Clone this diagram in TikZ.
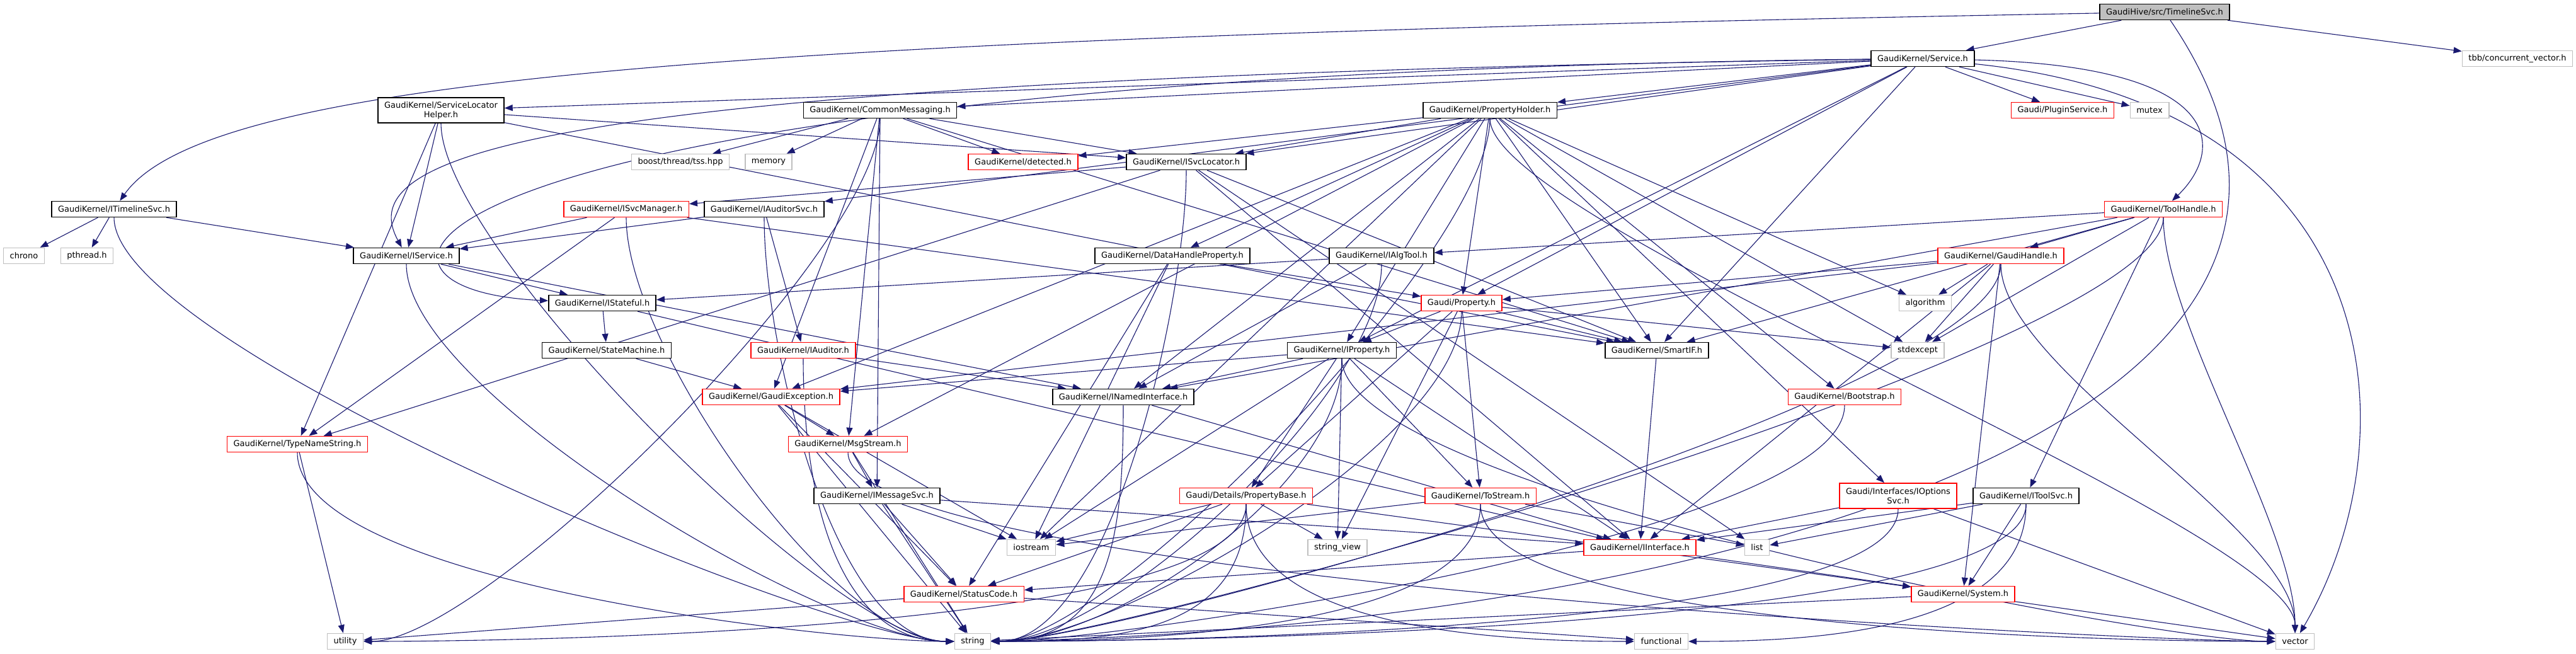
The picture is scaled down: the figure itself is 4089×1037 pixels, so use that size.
\documentclass[tikz,border=0pt]{standalone}
\usepackage{fontspec}
\setmainfont{DejaVu Sans}
\usetikzlibrary{arrows.meta,backgrounds}
\definecolor{edgeblue}{HTML}{191970}
\definecolor{sysgray}{HTML}{BFBFBF}
\begin{document}
\begin{tikzpicture}[x=0.2mm,y=-0.2mm,
  every node/.style={rectangle,minimum height=5mm,inner xsep=2mm,inner ysep=0pt,
    font=\fontsize{7.4}{8.6}\selectfont,line width=0.3mm,fill=white},
  hdr/.style={draw=black},
  bad/.style={draw=red},
  sysh/.style={draw=sysgray},
  tall/.style={minimum height=8mm,align=center},
  dep/.style={draw=edgeblue,line width=0.22mm,-{Triangle[length=2.6mm,width=2mm]}},
  atleft/.style={dep,to path={.. controls +(0,220) and +(-220,0) .. (\tikztotarget)}},
  atright/.style={dep,to path={.. controls +(0,220) and +(220,0) .. (\tikztotarget)}},
  attop/.style={dep,to path={.. controls +(0,180) and +(0,-180) .. (\tikztotarget)}}]
  \useasboundingbox (0,0) rectangle (4089,1037);
  % rows, top to bottom
  \node[hdr,fill=sysgray] (tl) at (3436,19) {GaudiHive/src/TimelineSvc.h};
  \node[hdr] (svc) at (3052,93) {GaudiKernel/Service.h};
  \node[sysh] (tbb) at (3996,93) {tbb/concurrent\_vector.h};

  \node[hdr,tall] (slh) at (700,175) {GaudiKernel/ServiceLocator\\Helper.h};
  \node[hdr] (cm) at (1397,175) {GaudiKernel/CommonMessaging.h};
  \node[hdr] (ph) at (2365,175) {GaudiKernel/PropertyHolder.h};
  \node[bad] (plg) at (3274,175) {Gaudi/PluginService.h};
  \node[sysh] (mtx) at (3412,175) {mutex};

  \node[sysh] (tss) at (1080,257) {boost/thread/tss.hpp};
  \node[sysh] (mem) at (1220,257) {memory};
  \node[bad] (det) at (1624,257) {GaudiKernel/detected.h};
  \node[hdr] (isl) at (1883,257) {GaudiKernel/ISvcLocator.h};

  \node[hdr] (itl) at (181,332) {GaudiKernel/ITimelineSvc.h};
  \node[bad] (isvm) at (994,332) {GaudiKernel/ISvcManager.h};
  \node[hdr] (ias) at (1213,332) {GaudiKernel/IAuditorSvc.h};
  \node[bad] (th) at (3434,332) {GaudiKernel/ToolHandle.h};

  \node[sysh] (chr) at (38,406) {chrono};
  \node[sysh] (pth) at (138,406) {pthread.h};
  \node[hdr] (isv) at (645,406) {GaudiKernel/IService.h};
  \node[hdr] (dhp) at (1861,406) {GaudiKernel/DataHandleProperty.h};
  \node[hdr] (iat) at (2193,406) {GaudiKernel/IAlgTool.h};
  \node[bad] (gh) at (3176,406) {GaudiKernel/GaudiHandle.h};

  \node[hdr] (ist) at (956,481) {GaudiKernel/IStateful.h};
  \node[bad] (prop) at (2320,481) {Gaudi/Property.h};
  \node[sysh] (alg) at (3056,481) {algorithm};

  \node[hdr] (sm) at (963,556) {GaudiKernel/StateMachine.h};
  \node[bad] (iaud) at (1275,556) {GaudiKernel/IAuditor.h};
  \node[hdr] (iprop) at (2130,556) {GaudiKernel/IProperty.h};
  \node[hdr] (sif) at (2630,556) {GaudiKernel/SmartIF.h};
  \node[sysh] (stdex) at (3044,556) {stdexcept};

  \node[bad] (ge) at (1224,630) {GaudiKernel/GaudiException.h};
  \node[hdr] (ini) at (1783,630) {GaudiKernel/INamedInterface.h};
  \node[bad] (boot) at (2928,630) {GaudiKernel/Bootstrap.h};

  \node[bad] (tns) at (472,705) {GaudiKernel/TypeNameString.h};
  \node[bad] (msg) at (1346,705) {GaudiKernel/MsgStream.h};

  \node[hdr] (ims) at (1392,787) {GaudiKernel/IMessageSvc.h};
  \node[bad] (pb) at (1978,787) {Gaudi/Details/PropertyBase.h};
  \node[bad] (ts) at (2350,787) {GaudiKernel/ToStream.h};
  \node[bad,tall] (iopt) at (3013,787) {Gaudi/Interfaces/IOptions\\Svc.h};
  \node[hdr] (its) at (3216,787) {GaudiKernel/IToolSvc.h};

  \node[sysh] (ios) at (1637,869) {iostream};
  \node[sysh] (sv) at (2123,869) {string\_view};
  \node[bad] (iint) at (2603,869) {GaudiKernel/IInterface.h};
  \node[sysh] (lst) at (2789,869) {list};

  \node[bad] (sc) at (1530,943) {GaudiKernel/StatusCode.h};
  \node[bad] (syst) at (3116,943) {GaudiKernel/System.h};

  \node[sysh] (utl) at (548,1018) {utility};
  \node[sysh] (str) at (1544,1018) {string};
  \node[sysh] (fn) at (2637,1018) {functional};
  \node[sysh] (vec) at (3643,1018) {vector};

  \begin{pgfonlayer}{background}
  % includes of the root file
  \draw[dep] (tl) .. controls (1200,60) and (330,120) .. (itl);
  \draw[dep] (tl) -- (svc);
  \draw[dep] (tl) -- (tbb);
  \draw[dep] (tl) .. controls (3900,700) and (2600,1000) .. (str);
  % Service.h
  \path (svc) edge[dep] (slh) edge[dep] (cm) edge[dep] (ph) edge[dep] (plg)
    edge[dep] (mtx) edge[dep] (isl) edge[dep] (prop) edge[dep] (iprop)
    edge[dep] (sif) edge[dep] (ias);
  \draw[dep] (svc) .. controls (3540,105) and (3530,240) .. (th);
  \draw[dep] (svc) .. controls (800,125) and (560,250) .. (isv);
  \draw[dep] (svc) .. controls (600,120) and (480,460) .. (ist);
  \draw[dep] (svc) .. controls (3800,170) and (3830,700) .. (vec);
  % second row
  \path (itl) edge[dep] (chr) edge[dep] (pth) edge[dep] (isv)
    edge[atleft] (str);
  \path (slh) edge[dep] (isv) edge[dep] (isl) edge[dep] (sif) edge[dep] (tns)
    edge[atleft] (str);
  \path (cm) edge[dep] (tss) edge[dep] (mem) edge[dep] (det) edge[dep] (isl)
    edge[dep] (ge) edge[dep] (msg) edge[dep] (ims) edge[dep] (sif)
    edge[atright] (utl);
  \path (ph) edge[dep] (det) edge[dep] (isl) edge[dep] (dhp) edge[dep] (prop)
    edge[dep] (iprop) edge[dep] (ge) edge[dep] (msg) edge[dep] (ini)
    edge[dep] (ios) edge[dep] (sif) edge[dep] (boot) edge[dep] (iopt)
    edge[dep] (alg) edge[dep] (stdex) edge[atright] (str) edge[attop] (vec);
  \path (th) edge[dep] (gh) edge[dep] (iat) edge[dep] (its) edge[dep] (sif)
    edge[dep] (ini) edge[dep] (stdex) edge[atright] (str) edge[attop] (vec);
  % interfaces
  \path (isvm) edge[dep] (isv) edge[dep] (tns) edge[dep] (sif) edge[atleft] (str);
  \path (ias) edge[dep] (isv) edge[dep] (iaud) edge[atleft] (str);
  \path (isl) edge[dep] (isvm) edge[dep] (tns) edge[dep] (sif) edge[dep] (iint)
    edge[dep] (lst) edge[atright] (str);
  \path (isv) edge[dep] (ist) edge[dep] (ini) edge[atleft] (str);
  \path (ist) edge[dep] (sm) edge[dep] (iint);
  \draw[dep] (sm) -- (ge);
  \path (iaud) edge[dep] (ini) edge[atleft] (str);
  \path (dhp) edge[dep] (prop) edge[dep] (sc) edge[dep] (ios);
  \path (iat) edge[dep] (ist) edge[dep] (ini) edge[atright] (str);
  \path (gh) edge[dep] (prop) edge[dep] (ge) edge[dep] (alg) edge[dep] (stdex)
    edge[dep] (iint) edge[dep] (syst) edge[atright] (str) edge[attop] (vec);
  \path (prop) edge[dep] (iprop) edge[dep] (sif) edge[dep] (stdex) edge[dep] (ts)
    edge[dep] (pb) edge[dep] (sv) edge[atright] (str);
  \path (iprop) edge[dep] (ge) edge[dep] (ini) edge[dep] (ios) edge[dep] (pb)
    edge[dep] (sv) edge[dep] (ts) edge[dep] (iint) edge[atright] (str)
    edge[atleft] (vec);
  \draw[dep] (sif) -- (iint);
  \path (ini) edge[dep] (iint) edge[atright] (str);
  \draw[atright] (boot) to (str);
  \path (ge) edge[dep] (msg) edge[dep] (sc) edge[dep] (str) edge[dep] (ios);
  \path (tns) edge[dep] (utl) edge[atleft] (str);
  \path (msg) edge[dep] (ims) edge[dep] (str) edge[atleft] (vec);
  \path (ims) edge[dep] (ios) edge[dep] (sc) edge[dep] (iint) edge[dep] (str);
  \path (pb) edge[dep] (ios) edge[dep] (sc) edge[atright] (str) edge[dep] (sv)
    edge[atleft] (fn) edge[dep] (syst) edge[atright] (utl);
  \path (ts) edge[dep] (ios) edge[atright] (str) edge[dep] (lst) edge[atleft] (vec);
  \path (iopt) edge[dep] (iint) edge[atright] (str) edge[dep] (vec);
  \path (its) edge[dep] (iint) edge[dep] (lst) edge[dep] (syst) edge[atright] (str)
    edge[atright] (fn);
  \path (iint) edge[dep] (sc) edge[dep] (syst);
  \path (sc) edge[dep] (utl) edge[dep] (fn);
  \path (syst) edge[dep] (str) edge[dep] (vec);
  \end{pgfonlayer}
\end{tikzpicture}
\end{document}
